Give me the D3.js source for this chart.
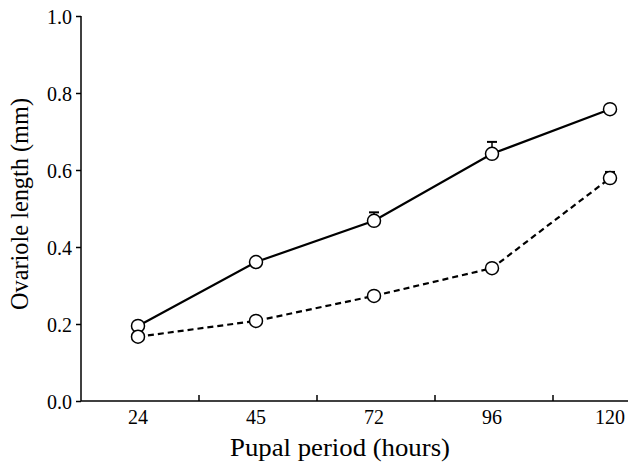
<!DOCTYPE html>
<html>
<head>
<meta charset="utf-8">
<script src="https://cdn.jsdelivr.net/npm/d3@7"></script>
<style>
  body { margin: 0; background: white; }
  text { font-family: "Liberation Serif", "Times New Roman", serif; fill: black; }
</style>
</head>
<body>
<div class="mainVis"></div>
<script>
// categories and series
var hours = ["24", "45", "72", "96", "120"]
var solidValues = [0.195, 0.361, 0.468, 0.642, 0.758]
var solidErrors = [0, 0, 0.022, 0.031, 0]
var dashedValues = [0.167, 0.208, 0.273, 0.345, 0.579]
var dashedErrors = [0, 0, 0, 0, 0.016]
var yTicks = [0, 0.2, 0.4, 0.6, 0.8, 1.0]

var width = 628, height = 465

var canvas = d3.select(".mainVis")
    .append("svg")
    .attr("width", width)
    .attr("height", height)

canvas.append("rect")
    .attr("width", width)
    .attr("height", height)
    .attr("fill", "white")

// plot is cut off on the right in the original, so the last band runs past the edge
var x = d3.scaleBand()
    .domain(hours)
    .range([81, 671])

var y = d3.scaleLinear()
    .domain([0, 1])
    .range([401, 16])

// y axis
var yAxis = canvas.append("g")
    .attr("transform", "translate(81,0)")
    .call(d3.axisLeft(y).tickValues(yTicks).tickSize(5).tickFormat(d3.format(".1f")))
yAxis.attr("font-family", null).attr("font-size", null)
yAxis.select(".domain").attr("stroke-width", 1.5).attr("d", "M0," + y(1) + "V" + y(0))
yAxis.selectAll(".tick line").attr("stroke-width", 1.5)
yAxis.selectAll(".tick text")
    .attr("x", -9)
    .attr("dy", "0.36em")
    .style("font-size", "20px")

// x axis: ticks at band boundaries, pointing up
var xAxis = canvas.append("g")
    .attr("transform", "translate(0,401)")
xAxis.append("line")
    .attr("x1", 81).attr("x2", 671)
    .attr("stroke", "black").attr("stroke-width", 1.5)
xAxis.selectAll(".bound")
    .data(hours.slice(1))
    .enter()
    .append("line")
    .attr("class", "bound")
    .attr("x1", function(d) { return x(d) })
    .attr("x2", function(d) { return x(d) })
    .attr("y1", 0).attr("y2", -6)
    .attr("stroke", "black").attr("stroke-width", 1.5)
xAxis.selectAll(".lab")
    .data(hours)
    .enter()
    .append("text")
    .attr("class", "lab")
    .attr("x", function(d) { return x(d) + x.bandwidth() / 2 - 2 })
    .attr("y", 23)
    .attr("text-anchor", "middle")
    .style("font-size", "20px")
    .text(function(d) { return d })

// axis titles
canvas.append("text")
    .attr("x", 340)
    .attr("y", 456)
    .attr("text-anchor", "middle")
    .attr("textLength", 220)
    .attr("lengthAdjust", "spacingAndGlyphs")
    .style("font-size", "25px")
    .text("Pupal period (hours)")

canvas.append("text")
    .attr("transform", "translate(28,204) rotate(-90)")
    .attr("text-anchor", "middle")
    .attr("textLength", 212)
    .attr("lengthAdjust", "spacingAndGlyphs")
    .style("font-size", "25px")
    .text("Ovariole length (mm)")

var cx = function(i) { return x(hours[i]) + x.bandwidth() / 2 - 2 }

var line = d3.line()
    .x(function(d, i) { return cx(i) })
    .y(function(d) { return y(d) })

var series = [
    { values: solidValues, errors: solidErrors, dash: null },
    { values: dashedValues, errors: dashedErrors, dash: "6,4" }
]

series.forEach(function(s) {
    canvas.append("path")
        .datum(s.values)
        .attr("d", line)
        .attr("fill", "none")
        .attr("stroke", "black")
        .attr("stroke-width", 2.2)
        .attr("stroke-dasharray", s.dash)

    // upper error bars only
    s.values.forEach(function(v, i) {
        if (!s.errors[i]) return
        canvas.append("line")
            .attr("x1", cx(i)).attr("x2", cx(i))
            .attr("y1", y(v)).attr("y2", y(v + s.errors[i]))
            .attr("stroke", "black").attr("stroke-width", 1.5)
        canvas.append("line")
            .attr("x1", cx(i) - 5).attr("x2", cx(i) + 5)
            .attr("y1", y(v + s.errors[i])).attr("y2", y(v + s.errors[i]))
            .attr("stroke", "black").attr("stroke-width", 2)
    })
})

series.forEach(function(s) {
    canvas.selectAll(null)
        .data(s.values)
        .enter()
        .append("circle")
        .attr("cx", function(d, i) { return cx(i) })
        .attr("cy", function(d) { return y(d) })
        .attr("r", 6.5)
        .attr("fill", "white")
        .attr("stroke", "black")
        .attr("stroke-width", 1.5)
})
</script>
</body>
</html>
